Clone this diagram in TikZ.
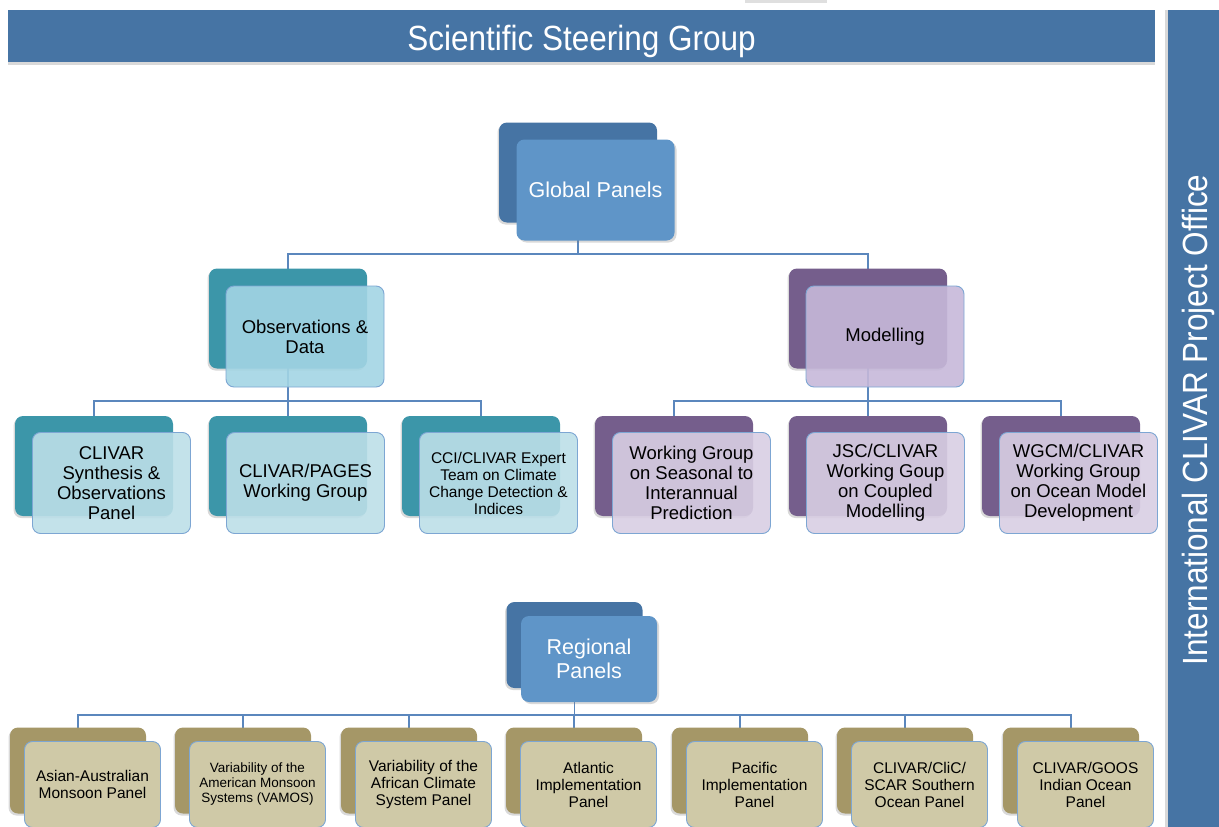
\documentclass[tikz,border=0pt]{standalone}
\usepackage{fontspec}
\setmainfont{Liberation Sans}
\usetikzlibrary{shadows,backgrounds}
\definecolor{barblue}{HTML}{4674A4}
\definecolor{gpfront}{HTML}{5F95C8}
\definecolor{gpback}{HTML}{4674A4}
\definecolor{tealback}{HTML}{3C96A9}
\definecolor{obsfront}{HTML}{A3D5E4}
\definecolor{tealfront}{HTML}{BCDFE8}
\definecolor{purpback}{HTML}{755E8C}
\definecolor{modfront}{HTML}{C6B8D9}
\definecolor{purpfront}{HTML}{D8CEE3}
\definecolor{oliveback}{HTML}{A59767}
\definecolor{olivefront}{HTML}{CFC9A7}
\definecolor{edgeblue}{HTML}{7DA6D3}
\definecolor{connblue}{HTML}{5B87BD}
\newcommand\fsz[2]{\fontsize{#1}{#2}\selectfont}
\begin{document}
\begin{tikzpicture}[x=1pt,y=-1pt,
  box/.style={rectangle, rounded corners=8pt, inner sep=0pt, align=center},
  backshadow/.style={drop shadow={shadow xshift=-1.5pt, shadow yshift=-2pt, opacity=0.3}},
  frontshadow/.style={drop shadow={shadow xshift=2pt, shadow yshift=-2pt, opacity=0.3}},
  bigback/.style={box, backshadow, fill=#1, minimum width=158pt, minimum height=100pt},
  bigfront/.style={box, minimum width=158pt, minimum height=101pt},
  glass/.style={draw=edgeblue, line width=0.9pt, fill=#1, fill opacity=0.9, text opacity=1},
  smallback/.style={box, backshadow, fill=#1, minimum width=136pt, minimum height=86pt},
  smallfront/.style={box, minimum width=136pt, minimum height=86pt},
  regfront/.style={smallfront, draw=edgeblue, line width=0.9pt, fill=olivefront, font=\fsz{15.5}{17}},
  conn/.style={draw=connblue, line width=1.2pt},
  bar/.style={rectangle, fill=barblue, inner sep=0pt, text=white}
]
\useasboundingbox (0,0) rectangle (1219,827);
\fill[gray!25] (745,0) rectangle (827,2.5);

% bars
\node[bar, minimum width=1147pt, text height=40pt, text depth=12pt,
  drop shadow={shadow xshift=0pt, shadow yshift=-3pt, opacity=0.3},
  font=\fsz{35}{40}] (ssg) at (581.5,36) {\scalebox{0.9}[1]{Scientific Steering Group}};
\node[bar, minimum width=51pt, minimum height=830pt, anchor=north west,
  drop shadow={shadow xshift=-3pt, shadow yshift=0pt, opacity=0.3}] (ipobar) at (1168,10) {};
\node[rotate=90, text=white, inner sep=0pt, font=\fsz{35}{40}] (ipo) at (1198,420)
  {\scalebox{0.9}[1]{International CLIVAR Project Office}};

% global panels
\node[bigback=gpback] (gpb) at (578,172.5) {};
\node[bigfront, frontshadow, fill=gpfront, text=white, font=\fsz{21.5}{24}] (gp) at (595.5,190) {Global Panels};

% observations & modelling
\node[bigback=tealback] (obsb) at (288,318.5) {};
\node[bigfront, glass=obsfront, font=\fsz{18.5}{20}] (obs) at (305,336.5) {Observations \&\\Data};
\node[bigback=purpback] (modb) at (868,318.5) {};
\node[bigfront, glass=modfront, font=\fsz{18.5}{20}] (mod) at (885,336.5) {Modelling};

% row 2
\node[bigback=tealback] (c1b) at (94,466) {};
\node[bigfront, glass=tealfront, font=\fsz{18.5}{20}] (c1) at (111.5,483) {CLIVAR\\Synthesis \&\\Observations\\Panel};
\node[bigback=tealback] (c2b) at (288,466) {};
\node[bigfront, glass=tealfront, font=\fsz{18.5}{20}] (c2) at (305.5,483) {CLIVAR/PAGES\\Working Group};
\node[bigback=tealback] (c3b) at (481,466) {};
\node[bigfront, glass=tealfront, font=\fsz{15.5}{17}] (c3) at (498.5,483) {CCI/CLIVAR Expert\\Team on Climate\\Change Detection \&\\Indices};
\node[bigback=purpback] (m1b) at (674,466) {};
\node[bigfront, glass=purpfront, font=\fsz{18.5}{20}] (m1) at (691.5,483) {Working Group\\on Seasonal to\\Interannual\\Prediction};
\node[bigback=purpback] (m2b) at (868,466) {};
\node[bigfront, glass=purpfront, font=\fsz{18.5}{20}] (m2) at (885.5,483) {JSC/CLIVAR\\Working Goup\\on Coupled\\Modelling};
\node[bigback=purpback] (m3b) at (1061,466) {};
\node[bigfront, glass=purpfront, font=\fsz{18.5}{20}] (m3) at (1078.5,483) {WGCM/CLIVAR\\Working Group\\on Ocean Model\\Development};

% regional panels
\node[smallback=gpback] (rpb) at (574.5,645) {};
\node[smallfront, frontshadow, fill=gpfront, text=white, font=\fsz{21.5}{24}] (rp) at (589,659) {Regional\\Panels};

% bottom row
\node[smallback=oliveback] (r1b) at (78,770.5) {};
\node[regfront] (r1) at (92.5,784.5) {Asian-Australian\\Monsoon Panel};
\node[smallback=oliveback] (r2b) at (243,770.5) {};
\node[regfront, font=\fsz{13.5}{15}] (r2) at (257.5,784.5) {Variability of the\\American Monsoon\\Systems (VAMOS)};
\node[smallback=oliveback] (r3b) at (409,770.5) {};
\node[regfront] (r3) at (423.5,784.5) {Variability of the\\African Climate\\System Panel};
\node[smallback=oliveback] (r4b) at (574,770.5) {};
\node[regfront] (r4) at (588.5,784.5) {Atlantic\\Implementation\\Panel};
\node[smallback=oliveback] (r5b) at (740,770.5) {};
\node[regfront] (r5) at (754.5,784.5) {Pacific\\Implementation\\Panel};
\node[smallback=oliveback] (r6b) at (905,770.5) {};
\node[regfront] (r6) at (919.5,784.5) {CLIVAR/CliC/\\SCAR Southern\\Ocean Panel};
\node[smallback=oliveback] (r7b) at (1071,770.5) {};
\node[regfront] (r7) at (1085.5,784.5) {CLIVAR/GOOS\\Indian Ocean\\Panel};

\coordinate (bus1) at (0,254);
\coordinate (bus2) at (0,401);
\coordinate (bus3) at (0,715);

\begin{scope}[on background layer]
\draw[conn] (gpb.center) -- (gpb.center |- bus1);
\draw[conn] (obsb.center) |- (modb.center |- bus1) -- (modb.center);
\draw[conn] (obsb.center) -- (obsb.center |- bus2);
\draw[conn] (c1b.center) |- (c3b.center |- bus2) -- (c3b.center);
\draw[conn] (c2b.center) -- (c2b.center |- bus2);
\draw[conn] (modb.center) -- (modb.center |- bus2);
\draw[conn] (m1b.center) |- (m3b.center |- bus2) -- (m3b.center);
\draw[conn] (m2b.center) -- (m2b.center |- bus2);
\draw[conn] (rpb.center) -- (rpb.center |- bus3);
\draw[conn] (r1b.center) |- (r7b.center |- bus3) -- (r7b.center);
\foreach \n in {r2b,r3b,r4b,r5b,r6b} \draw[conn] (\n.center) -- (\n.center |- bus3);
\end{scope}
\end{tikzpicture}
\end{document}
